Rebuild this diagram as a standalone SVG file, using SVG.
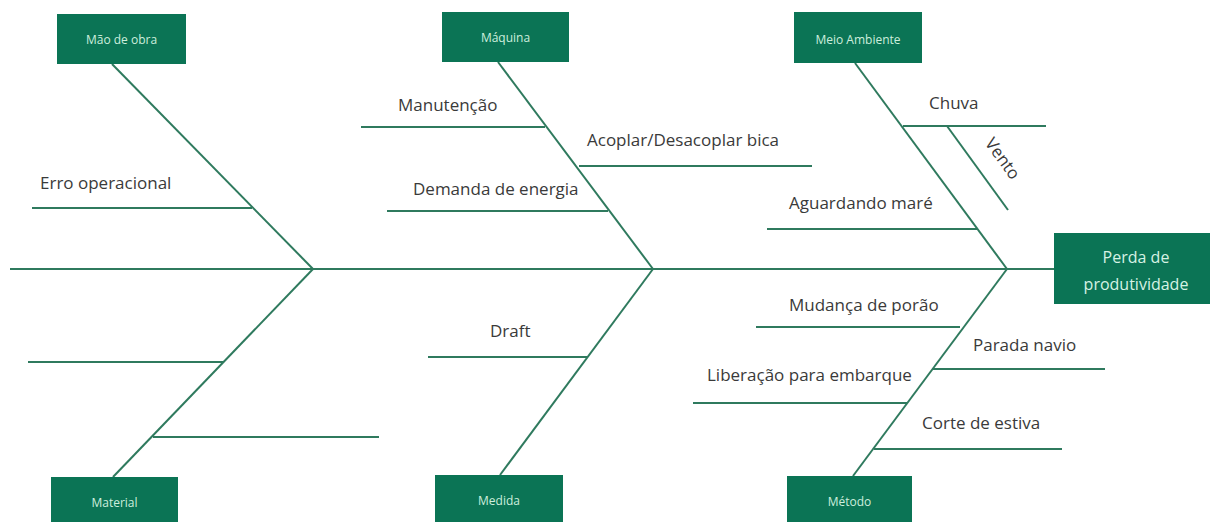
<svg xmlns="http://www.w3.org/2000/svg" width="1210" height="522" viewBox="0 0 1210 522">
<style>
.box{fill:#0b7455;}
.bl{font-family:"Open Sans","Liberation Sans",sans-serif;font-size:12px;fill:#cdeedd;text-anchor:middle;}
.hl{font-family:"Open Sans","Liberation Sans",sans-serif;font-size:16px;fill:#d6f2e4;text-anchor:middle;}
.t{font-family:"Open Sans","Liberation Sans",sans-serif;font-size:17px;fill:#3a3a3a;}
.ln{stroke:#2f7a5e;stroke-width:2;fill:none;}
</style>
<rect width="1210" height="522" fill="#ffffff"/>
<g id="connectors">
<line class="ln" x1="10" y1="269" x2="1054" y2="269"/>
<line class="ln" x1="112" y1="64" x2="313" y2="269"/>
<line class="ln" x1="113" y1="477" x2="313" y2="269"/>
<line class="ln" x1="498" y1="62" x2="653" y2="269"/>
<line class="ln" x1="500" y1="475" x2="653" y2="269"/>
<line class="ln" x1="855" y1="63" x2="1007" y2="269"/>
<line class="ln" x1="853" y1="476" x2="1007" y2="269"/>
<line class="ln" x1="32" y1="208" x2="252" y2="208"/>
<line class="ln" x1="28" y1="362" x2="223" y2="362"/>
<line class="ln" x1="153" y1="437" x2="379" y2="437"/>
<line class="ln" x1="361" y1="127" x2="545" y2="127"/>
<line class="ln" x1="579" y1="166" x2="812" y2="166"/>
<line class="ln" x1="387" y1="211" x2="608" y2="211"/>
<line class="ln" x1="428" y1="357" x2="588" y2="357"/>
<line class="ln" x1="903" y1="126" x2="1046" y2="126"/>
<line class="ln" x1="947" y1="126" x2="1008" y2="210"/>
<line class="ln" x1="767" y1="229" x2="977" y2="229"/>
<line class="ln" x1="756" y1="327" x2="960" y2="327"/>
<line class="ln" x1="932" y1="369" x2="1105" y2="369"/>
<line class="ln" x1="693" y1="403" x2="907" y2="403"/>
<line class="ln" x1="874" y1="449" x2="1062" y2="449"/>
</g>
<g id="labels">
<text class="t" x="40" y="189">Erro operacional</text>
<text class="t" x="398" y="111">Manutenção</text>
<text class="t" x="587" y="146">Acoplar/Desacoplar bica</text>
<text class="t" x="413" y="195">Demanda de energia</text>
<text class="t" x="490" y="337">Draft</text>
<text class="t" x="929" y="109">Chuva</text>
<text class="t" transform="translate(998,162) rotate(54)" text-anchor="middle">Vento</text>
<text class="t" x="789" y="209">Aguardando maré</text>
<text class="t" x="789" y="311">Mudança de porão</text>
<text class="t" x="973" y="351">Parada navio</text>
<text class="t" x="707" y="381">Liberação para embarque</text>
<text class="t" x="922" y="429">Corte de estiva</text>
</g>
<g id="node-mao-de-obra"><rect class="box" x="57" y="14" width="129" height="50"/><text class="bl" x="121.5" y="44">Mão de obra</text></g>
<g id="node-maquina"><rect class="box" x="442" y="12" width="127" height="50"/><text class="bl" x="505.5" y="42">Máquina</text></g>
<g id="node-meio-ambiente"><rect class="box" x="794" y="12" width="128" height="51"/><text class="bl" x="858" y="44">Meio Ambiente</text></g>
<g id="node-material"><rect class="box" x="51" y="477" width="127" height="50"/><text class="bl" x="114.5" y="507">Material</text></g>
<g id="node-medida"><rect class="box" x="435" y="475" width="128" height="50"/><text class="bl" x="499" y="505">Medida</text></g>
<g id="node-metodo"><rect class="box" x="787" y="476" width="125" height="50"/><text class="bl" x="849.5" y="506">Método</text></g>
<g id="node-perda"><rect class="box" x="1054" y="233" width="156" height="71"/><text class="hl" x="1136" y="263">Perda de</text><text class="hl" x="1136" y="290">produtividade</text></g>
</svg>
